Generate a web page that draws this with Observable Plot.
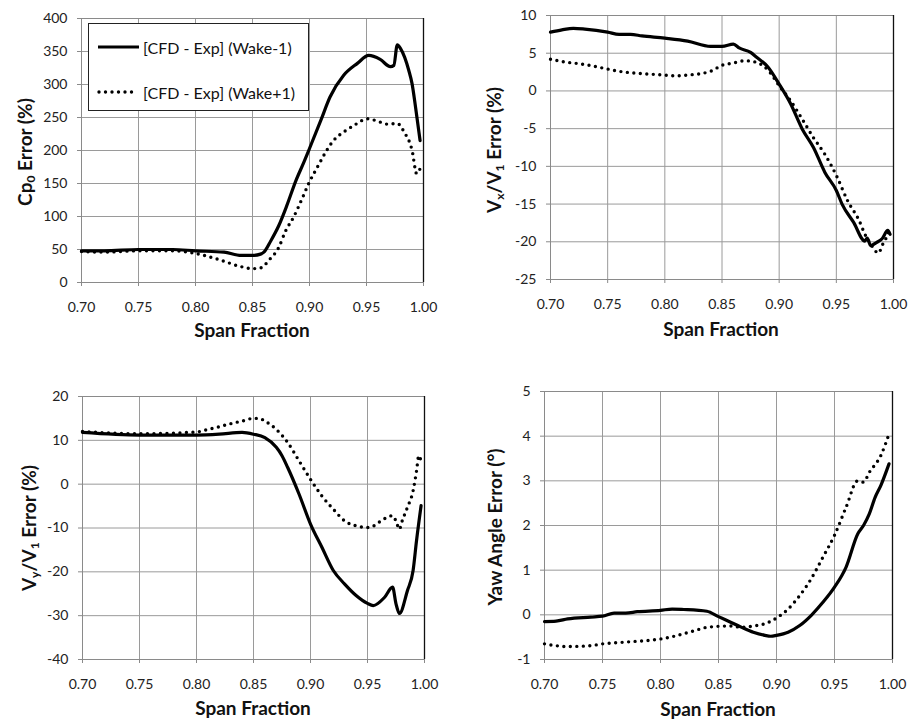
<!DOCTYPE html>
<html>
<head>
<meta charset="utf-8">
<script src="https://cdn.jsdelivr.net/npm/d3@7"></script>
<script src="https://cdn.jsdelivr.net/npm/@observablehq/plot@0.6"></script>
<style>
  html, body { margin: 0; padding: 0; background: #fff; }
  #root { position: relative; width: 908px; height: 720px; background: #fff; font-family: Lato, "Open Sans", sans-serif; color: #111; overflow: hidden; }
  .panel { position: absolute; width: 454px; height: 360px; }
  .ytitle { position: absolute; transform: translate(-50%, -50%) rotate(-90deg); white-space: nowrap; font-weight: bold; font-size: 19px; }
  .xtitle { position: absolute; transform: translate(-50%, -50%); white-space: nowrap; font-weight: bold; font-size: 19px; }
  .ytitle sub { font-size: 12px; vertical-align: -3px; line-height: 0; }
  #legend { position: absolute; left: 88px; top: 23px; width: 219px; height: 86px; border: 1.3px solid #222; background: #fff; z-index: 5; }
  #legend .txt { position: absolute; left: 54px; font-size: 16px; white-space: nowrap; transform: translateY(-50%); }
  #legend svg { position: absolute; left: 0; top: 0; }
</style>
</head>
<body>
<div id="root"></div>
<script>
// ---------- shared ticks ----------
const spanTicks = [0.70, 0.75, 0.80, 0.85, 0.90, 0.95, 1.00];

// ---------- Panel 1: Cp0 error (%) ----------
const cp0Ticks = [0, 50, 100, 150, 200, 250, 300, 350, 400];
const cp0WakeM1Span = [0.700, 0.720, 0.750, 0.780, 0.800, 0.825, 0.840, 0.850, 0.857, 0.860, 0.866, 0.873, 0.880, 0.888, 0.895, 0.900, 0.910, 0.918, 0.930, 0.942, 0.952, 0.962, 0.971, 0.974, 0.977, 0.980, 0.987, 0.990, 0.993, 0.997];
const cp0WakeM1 =     [48, 48, 50, 50, 48, 46, 41, 41, 43, 46, 63, 86, 116, 154, 182, 203, 246, 281, 314, 332, 344, 338, 327, 329, 360, 354, 322, 301, 266, 215];
const cp0WakeP1Span = [0.700, 0.720, 0.750, 0.780, 0.800, 0.820, 0.840, 0.850, 0.857, 0.865, 0.873, 0.879, 0.886, 0.894, 0.899, 0.907, 0.914, 0.921, 0.930, 0.939, 0.951, 0.962, 0.968, 0.977, 0.983, 0.990, 0.994, 0.998];
const cp0WakeP1 =     [47, 46, 48, 48, 44, 35, 24, 21, 22, 35, 53, 78, 99, 129, 149, 175, 197, 215, 228, 238, 248, 243, 240, 241, 228, 200, 165, 177];

// ---------- Panel 2: Vx/V1 error (%) ----------
const vxTicks = [-25, -20, -15, -10, -5, 0, 5, 10];
const vxWakeM1Span = [0.700, 0.710, 0.720, 0.730, 0.750, 0.760, 0.770, 0.780, 0.800, 0.820, 0.840, 0.850, 0.860, 0.865, 0.875, 0.880, 0.890, 0.900, 0.910, 0.920, 0.930, 0.940, 0.950, 0.955, 0.965, 0.975, 0.977, 0.980, 0.985, 0.990, 0.995, 0.997];
const vxWakeM1 =     [7.8, 8.1, 8.3, 8.2, 7.8, 7.5, 7.5, 7.3, 7.0, 6.6, 5.9, 5.9, 6.2, 5.7, 5.1, 4.5, 3.2, 0.9, -1.7, -5.0, -7.5, -10.8, -13.2, -15.0, -17.4, -19.9, -19.5, -20.5, -20.1, -19.6, -18.5, -19.0];
const vxWakeP1Span = [0.700, 0.710, 0.730, 0.750, 0.760, 0.780, 0.800, 0.810, 0.820, 0.840, 0.850, 0.860, 0.870, 0.880, 0.890, 0.900, 0.910, 0.920, 0.930, 0.940, 0.950, 0.960, 0.970, 0.975, 0.980, 0.987, 0.990, 0.995, 0.997];
const vxWakeP1 =     [4.2, 3.9, 3.5, 2.9, 2.6, 2.3, 2.1, 2.0, 2.1, 2.6, 3.4, 3.7, 4.0, 3.8, 2.8, 0.7, -1.3, -3.7, -6.2, -8.4, -11.2, -14.6, -17.2, -19.0, -20.3, -21.5, -20.5, -19.0, -18.1];

// ---------- Panel 3: Vy/V1 error (%) ----------
const vyTicks = [-40, -30, -20, -10, 0, 10, 20];
const vyWakeM1Span = [0.700, 0.750, 0.775, 0.800, 0.820, 0.840, 0.850, 0.860, 0.870, 0.875, 0.880, 0.890, 0.900, 0.910, 0.920, 0.930, 0.940, 0.950, 0.955, 0.965, 0.972, 0.975, 0.978, 0.985, 0.990, 0.993, 0.997];
const vyWakeM1 =     [11.8, 11.2, 11.2, 11.2, 11.4, 11.8, 11.4, 10.6, 8.4, 6.5, 3.8, -2.3, -9.1, -14.4, -19.7, -22.8, -25.4, -27.2, -27.7, -25.8, -23.5, -27.3, -29.5, -24.3, -19.7, -12.9, -4.9];
const vyWakeP1Span = [0.700, 0.750, 0.800, 0.810, 0.820, 0.830, 0.840, 0.850, 0.855, 0.860, 0.870, 0.880, 0.890, 0.900, 0.910, 0.920, 0.930, 0.940, 0.950, 0.955, 0.960, 0.972, 0.975, 0.978, 0.980, 0.985, 0.990, 0.993, 0.995, 0.997];
const vyWakeP1 =     [12.0, 11.5, 11.9, 12.5, 13.1, 13.8, 14.4, 15.0, 15.0, 14.4, 12.5, 9.5, 5.3, 1.1, -2.7, -5.7, -8.4, -9.5, -9.9, -9.6, -8.7, -7.2, -8.4, -10.3, -8.7, -5.3, -1.5, 3.0, 6.5, 5.3];

// ---------- Panel 4: Yaw angle error (deg) ----------
const yawTicks = [-1, 0, 1, 2, 3, 4, 5];
const yawWakeM1Span = [0.700, 0.710, 0.720, 0.740, 0.750, 0.760, 0.770, 0.780, 0.800, 0.810, 0.820, 0.840, 0.850, 0.860, 0.870, 0.880, 0.890, 0.895, 0.900, 0.910, 0.920, 0.930, 0.940, 0.950, 0.960, 0.970, 0.975, 0.980, 0.985, 0.990, 0.997];
const yawWakeM1 =     [-0.15, -0.14, -0.09, -0.05, -0.03, 0.04, 0.04, 0.07, 0.10, 0.13, 0.12, 0.08, -0.04, -0.16, -0.28, -0.39, -0.46, -0.48, -0.46, -0.39, -0.24, -0.01, 0.28, 0.62, 1.07, 1.81, 2.0, 2.26, 2.63, 2.9, 3.38];
const yawWakeP1Span = [0.700, 0.720, 0.740, 0.750, 0.770, 0.800, 0.810, 0.830, 0.840, 0.860, 0.870, 0.880, 0.890, 0.900, 0.910, 0.920, 0.930, 0.940, 0.950, 0.960, 0.970, 0.975, 0.980, 0.990, 0.997];
const yawWakeP1 =     [-0.65, -0.71, -0.69, -0.65, -0.61, -0.54, -0.49, -0.35, -0.28, -0.25, -0.28, -0.25, -0.20, -0.07, 0.13, 0.43, 0.81, 1.29, 1.78, 2.41, 3.0, 2.97, 3.19, 3.57, 4.05];

// ---------- layout ----------
const panels = [
  { left: 0,   top: 0,   m: [18, 31, 78, 81], ticks: cp0Ticks, dom: [0, 400],
    a: [cp0WakeM1Span, cp0WakeM1], b: [cp0WakeP1Span, cp0WakeP1],
    ytitle: "Cp<sub>0</sub> Error (%)", yt: [24, 152], xt: [252, 329] },
  { left: 454, top: 0,   m: [15, 15, 81, 96], ticks: vxTicks, dom: [-25, 10],
    a: [vxWakeM1Span, vxWakeM1], b: [vxWakeP1Span, vxWakeP1],
    ytitle: "V<sub>x</sub>/V<sub>1</sub> Error (%)", yt: [493, 150], xt: [721, 328] },
  { left: 0,   top: 360, m: [36, 30, 61, 82], ticks: vyTicks, dom: [-40, 20],
    a: [vyWakeM1Span, vyWakeM1], b: [vyWakeP1Span, vyWakeP1],
    ytitle: "V<sub>y</sub>/V<sub>1</sub> Error (%)", yt: [28, 528], xt: [253, 707] },
  { left: 454, top: 360, m: [31, 16, 61, 90], ticks: yawTicks, dom: [-1, 5],
    a: [yawWakeM1Span, yawWakeM1], b: [yawWakeP1Span, yawWakeP1],
    ytitle: "Yaw Angle Error (°)", yt: [494, 527], xt: [718, 708] }
];

const root = document.getElementById("root");
const toRows = ([xs, ys]) => xs.map((s, i) => ({ s, v: ys[i] }));
const intFmt = d => String(d); // ASCII hyphen for negatives, as in the reference

for (const p of panels) {
  const div = document.createElement("div");
  div.className = "panel";
  div.style.left = p.left + "px";
  div.style.top = p.top + "px";
  const chart = Plot.plot({
    width: 454, height: 360,
    marginTop: p.m[0], marginRight: p.m[1], marginBottom: p.m[2], marginLeft: p.m[3],
    style: { fontFamily: "Lato, 'Open Sans', sans-serif", fontSize: "14px", background: "transparent", overflow: "visible", color: "#222" },
    x: { domain: [0.7, 1.0] },
    y: { domain: p.dom },
    marks: [
      Plot.gridX(spanTicks, { stroke: "#9a9a9a", strokeOpacity: 1, strokeWidth: 1 }),
      Plot.gridY(p.ticks, { stroke: "#9a9a9a", strokeOpacity: 1, strokeWidth: 1 }),
      Plot.frame({ stroke: "#8a8a8a", strokeWidth: 1 }),
      Plot.ruleX([1.0], { stroke: "#111", strokeWidth: 1.3 }),
      Plot.axisX({ ticks: spanTicks, tickFormat: d3.format(".2f"), tickSize: 4, tickPadding: 16, stroke: "#8a8a8a", fill: "#222", label: null }),
      Plot.axisY({ ticks: p.ticks, tickFormat: intFmt, tickSize: 4, tickPadding: 10, stroke: "#8a8a8a", fill: "#222", label: null }),
      Plot.line(toRows(p.a), { x: "s", y: "v", curve: "monotone-x", stroke: "#000", strokeWidth: 3.2, strokeLinejoin: "round" }),
      Plot.line(toRows(p.b), { x: "s", y: "v", curve: "monotone-x", stroke: "#000", strokeWidth: 3.4, strokeLinecap: "round", strokeDasharray: "0 6.5" })
    ]
  });
  div.appendChild(chart);
  root.appendChild(div);

  const yt = document.createElement("div");
  yt.className = "ytitle";
  yt.innerHTML = p.ytitle;
  yt.style.left = p.yt[0] + "px";
  yt.style.top = p.yt[1] + "px";
  root.appendChild(yt);

  const xt = document.createElement("div");
  xt.className = "xtitle";
  xt.textContent = "Span Fraction";
  xt.style.left = p.xt[0] + "px";
  xt.style.top = p.xt[1] + "px";
  root.appendChild(xt);
}

// ---------- legend ----------
const seriesNames = ["[CFD - Exp] (Wake-1)", "[CFD - Exp] (Wake+1)"];
const legend = document.createElement("div");
legend.id = "legend";
legend.innerHTML = `
  <svg width="60" height="86">
    <line x1="9" x2="50" y1="23" y2="23" stroke="#000" stroke-width="3.2"/>
    <line x1="10" x2="48" y1="68" y2="68" stroke="#000" stroke-width="3.4" stroke-linecap="round" stroke-dasharray="0 6.5"/>
  </svg>
  <div class="txt" style="top:23px">${seriesNames[0]}</div>
  <div class="txt" style="top:68px">${seriesNames[1]}</div>`;
root.appendChild(legend);
</script>
</body>
</html>
